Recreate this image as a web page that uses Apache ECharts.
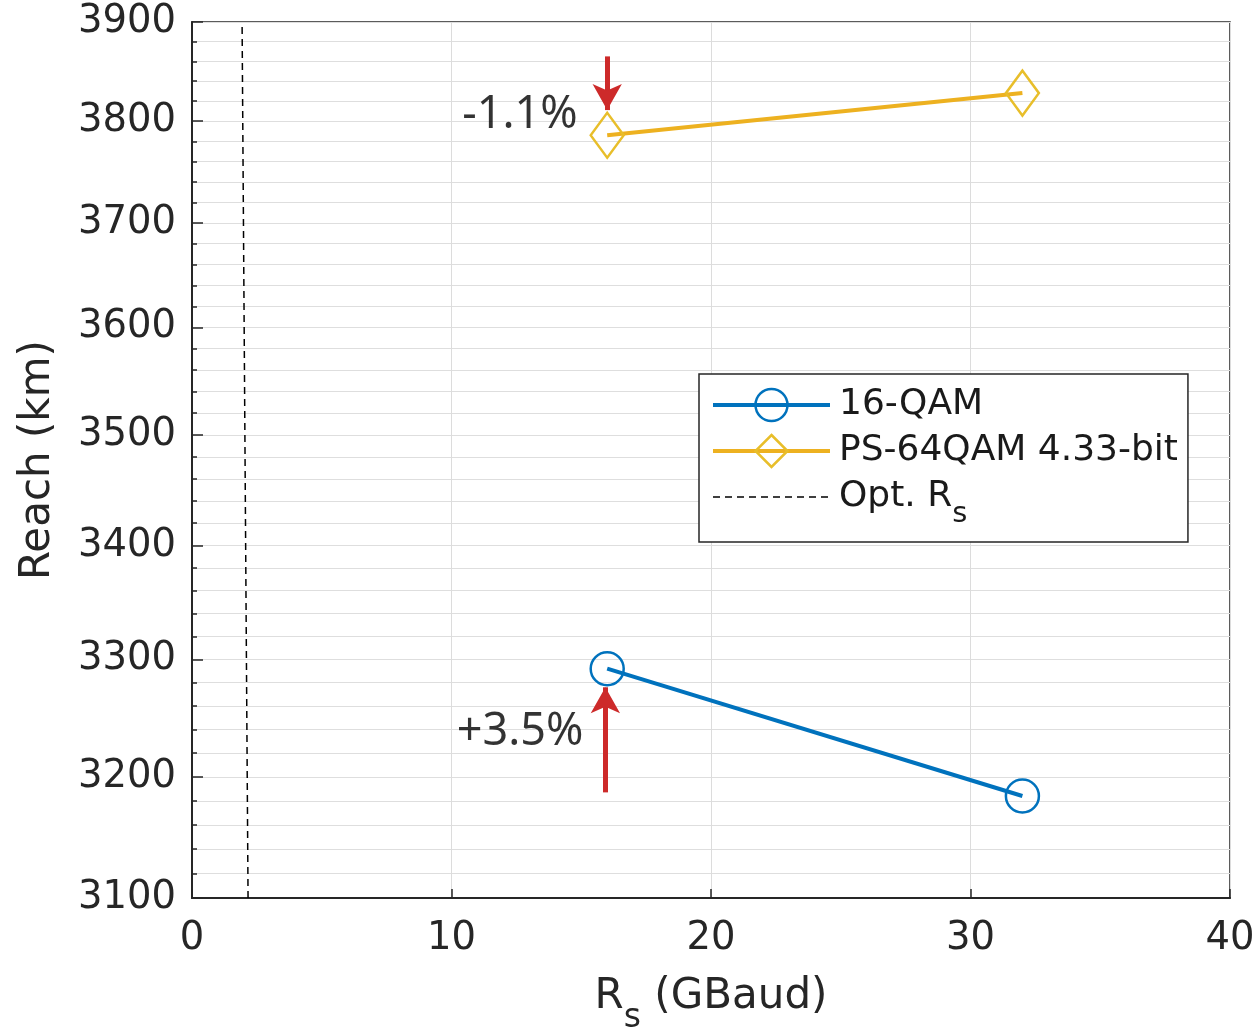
<!DOCTYPE html>
<html>
<head>
<meta charset="utf-8">
<script src="https://cdn.jsdelivr.net/npm/echarts@6/dist/echarts.min.js"></script>
<style>
html,body{margin:0;padding:0;background:#fff;}
#chart{width:1260px;height:1030px;}
</style>
</head>
<body>
<div id="chart"></div>
<script>
// ---- data ----
const rsQam16 = [16, 32];
const reachQam16 = [3292, 3184];
const rsPs64 = [16, 32];
const reachPs64 = [3786, 3828];
const optRsX = [2.16, 1.93];
const optRsY = [3100, 3900];
const yMajorTicks = [3100, 3200, 3300, 3400, 3500, 3600, 3700, 3800, 3900];
const xTicks = [0, 10, 20, 30, 40];
const annotText = ['-1.1%', '+3.5%'];
const annotX = [12.64, 12.64];
const annotY = [3806, 3238];
const arrowDown = [[16, 3865], [16, 3811]];
const arrowUp = [[15.93, 3187], [15.93, 3276]];

// minor grid every 20 km between major ticks
const yMinorTicks = [];
for (let i = 0; i < yMajorTicks.length - 1; i++) {
  const a = yMajorTicks[i], b = yMajorTicks[i + 1];
  for (let k = 0; k < 5; k++) yMinorTicks.push(a + (b - a) * k / 5);
}
yMinorTicks.push(yMajorTicks[yMajorTicks.length - 1]);

const blue = '#0072BD';
const orange = '#EDB120';
const red = '#CD2A2A';
const axisCol = '#262626';
const FONT = 'DejaVu Sans';

const chart = echarts.init(document.getElementById('chart'), null, {renderer: 'canvas'});

const yCommon = {
  type: 'log', logBase: 10, min: 3100, max: 3900, position: 'left', gridIndex: 0
};

const option = {
  backgroundColor: '#ffffff',
  animation: false,
  grid: {left: 192, top: 22, right: 30, bottom: 132, show: true, borderColor: axisCol, borderWidth: 1.5,
    backgroundColor: '#fff', containLabel: false, outerBoundsMode: 'none'},
  xAxis: {
    type: 'value', min: 0, max: 40, interval: 10,
    name: 'R{sub|s} (GBaud)', nameLocation: 'middle', nameGap: 78,
    nameTextStyle: {
      fontFamily: FONT, fontSize: 42, color: axisCol,
      rich: {sub: {fontFamily: FONT, fontSize: 33, color: axisCol, verticalAlign: 'bottom', padding: [0, 0, -17, 0]}}
    },
    axisLine: {onZero: false, lineStyle: {color: axisCol, width: 2}},
    axisTick: {inside: true, length: 9, lineStyle: {color: axisCol, width: 1.5}},
    axisLabel: {fontFamily: FONT, fontSize: 38.5, color: axisCol, margin: 21,
      customValues: xTicks},
    splitLine: {show: true, lineStyle: {color: '#dcdcdc', width: 1}}
  },
  yAxis: [
    Object.assign({}, yCommon, {
      name: 'Reach (km)', nameLocation: 'middle', nameGap: 133, nameRotate: 90,
      nameTextStyle: {fontFamily: FONT, fontSize: 42, color: axisCol},
      axisLine: {show: true, lineStyle: {color: axisCol, width: 2}},
      axisTick: {show: true, inside: true, length: 5, customValues: yMinorTicks, lineStyle: {color: axisCol, width: 1.5}},
      axisLabel: {show: false},
      splitLine: {show: true, lineStyle: {color: '#dedede', width: 1}}
    }),
    Object.assign({}, yCommon, {
      axisLine: {show: false},
      axisTick: {show: true, inside: true, length: 11, customValues: yMajorTicks, lineStyle: {color: axisCol, width: 1.5}},
      axisLabel: {show: true, customValues: yMajorTicks, fontFamily: FONT, fontSize: 38.5, color: axisCol, margin: 16,
        formatter: v => String(Math.round(v))},
      splitLine: {show: false}
    })
  ],
  legend: {
    orient: 'vertical', left: 699, top: 374,
    padding: [13, 10, 13, 12], itemGap: 10, itemWidth: 117, itemHeight: 40,
    backgroundColor: '#fff', borderColor: axisCol, borderWidth: 1.5, borderRadius: 0,
    textStyle: {fontFamily: FONT, fontSize: 36, color: '#1a1a1a', padding: [0, 0, 0, 4],
      rich: {sub: {fontFamily: FONT, fontSize: 29, color: '#1a1a1a', verticalAlign: 'bottom', padding: [0, 0, -14, 0]}}},
    data: [
      {name: '16-QAM', lineStyle: {width: 4}, itemStyle: {borderWidth: 2.5}},
      {name: 'PS-64QAM 4.33-bit', lineStyle: {width: 4}, itemStyle: {borderWidth: 2.5}},
      {name: 'Opt. R{sub|s}', lineStyle: {width: 1.5}, itemStyle: {opacity: 0}}
    ]
  },
  series: [
    {
      name: '16-QAM', type: 'line', xAxisIndex: 0, yAxisIndex: 0,
      data: rsQam16.map((x, i) => [x, reachQam16[i]]),
      symbol: 'circle', symbolSize: 33, showAllSymbol: true,
      itemStyle: {color: 'rgba(255,255,255,0)', borderColor: blue, borderWidth: 2.5},
      lineStyle: {color: blue, width: 4},
      z: 3
    },
    {
      name: 'PS-64QAM 4.33-bit', type: 'line', xAxisIndex: 0, yAxisIndex: 0,
      data: rsPs64.map((x, i) => [x, reachPs64[i]]),
      symbol: 'diamond', symbolSize: [33, 45],
      itemStyle: {color: 'rgba(255,255,255,0)', borderColor: '#E8BE2A', borderWidth: 2.5},
      lineStyle: {color: orange, width: 4},
      z: 3
    },
    {
      name: 'Opt. R{sub|s}', type: 'line', xAxisIndex: 0, yAxisIndex: 0,
      data: optRsX.map((x, i) => [x, optRsY[i]]),
      symbol: 'none',
      itemStyle: {color: '#000'},
      lineStyle: {color: '#000', width: 1.5, type: [7, 5]},
      z: 2
    },
    {
      name: 'annot', type: 'scatter', xAxisIndex: 0, yAxisIndex: 0,
      data: annotX.map((x, i) => [x, annotY[i], annotText[i]]),
      symbolSize: 0, silent: true,
      label: {show: true, position: 'inside', formatter: p => p.data[2],
        fontFamily: 'Noto Sans', fontSize: 45, color: '#000'},
      markLine: {
        silent: true, symbol: ['none', 'arrow'], symbolSize: [22, 26],
        label: {show: false},
        lineStyle: {color: red, width: 5, type: 'solid'},
        emphasis: {disabled: true},
        data: [
          [{coord: arrowDown[0]}, {coord: arrowDown[1]}],
          [{coord: arrowUp[0]}, {coord: arrowUp[1]}]
        ]
      },
      z: 5
    }
  ]
};
chart.setOption(option);
</script>
</body>
</html>
